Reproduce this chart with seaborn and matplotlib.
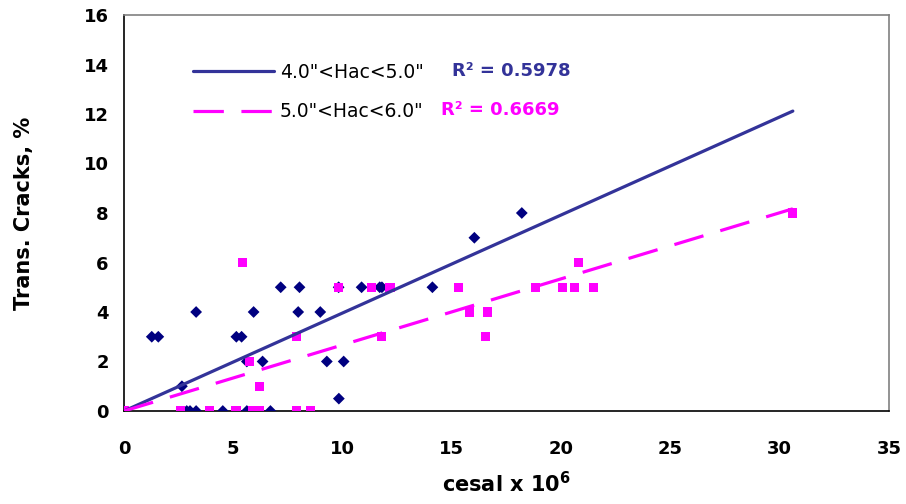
import matplotlib
matplotlib.use("Agg")
import matplotlib.pyplot as plt
import seaborn as sns
import numpy as np

# ---- data ----
series_labels = ['4.0"<Hac<5.0"', '5.0"<Hac<6.0"']
r2_labels = ["R² = 0.5978", "R² = 0.6669"]

x_45 = [0, 1.27, 1.57, 2.65, 2.87, 3.02, 3.3, 3.3, 4.52, 5.14, 5.38, 5.62, 5.62,
        5.93, 6.34, 6.7, 7.17, 7.97, 8.03, 8.98, 9.28, 9.82, 9.83, 10.05, 10.87,
        11.7, 11.8, 14.11, 16.03, 18.2]
y_45 = [0, 3, 3, 1, 0, 0, 0, 4, 0, 3, 3, 2, 0,
        4, 2, 0, 5, 4, 5, 4, 2, 5, 0.5, 2, 5,
        5, 5, 5, 7, 8]

x_56 = [0, 2.57, 3.91, 5.12, 5.43, 5.73, 5.88, 6.19, 6.19, 7.88, 7.9, 8.55, 9.82,
        11.31, 11.77, 12.17, 15.3, 15.8, 16.53, 16.63, 18.83, 20.05, 20.61, 20.78,
        21.48, 30.6]
y_56 = [0, 0, 0, 0, 6, 2, 0, 0, 1, 0, 3, 0, 5,
        5, 3, 5, 5, 4, 3, 4, 5, 5, 5, 6,
        5, 8]

trend_slopes = [0.396, 0.267]   # linear trendlines through the origin

x_ticks = [0, 5, 10, 15, 20, 25, 30, 35]
y_ticks = [0, 2, 4, 6, 8, 10, 12, 14, 16]

# ---- style ----
sns.set_theme(style="white")
plt.rcParams["font.family"] = ["DejaVu Sans"]
plt.rcParams["mathtext.fontset"] = "dejavusans"
for key in ["text.color", "axes.labelcolor", "xtick.color", "ytick.color"]:
    plt.rcParams[key] = "black"

W, H = 906, 504
fig = plt.figure(figsize=(W / 100, H / 100), dpi=100)
L, R, T, B = 124, 889, 15, 411
ax = fig.add_axes([L / W, 1 - B / H, (R - L) / W, (B - T) / H])

navy = "#000080"
magenta = "#FF00FF"
trend_blue = "#333399"

sns.scatterplot(x=x_45, y=y_45, marker="D", s=36, color=navy, edgecolor="none",
                linewidth=0, ax=ax, zorder=3)
sns.scatterplot(x=x_56, y=y_56, marker="s", s=44, color=magenta, edgecolor="none",
                linewidth=0, ax=ax, zorder=3)

xmax = max(max(x_45), max(x_56))
xs = np.array([0, xmax])
l1, = ax.plot(xs, trend_slopes[0] * xs, color=trend_blue, lw=2.3, zorder=4,
              solid_capstyle="round")
l2, = ax.plot(xs, trend_slopes[1] * xs, color=magenta, lw=2.3, zorder=4,
              dashes=(9.5, 5.5))

ax.set_xlim(0, 35)
ax.set_ylim(0, 16)
ax.set_xticks(x_ticks)
ax.set_yticks(y_ticks)
ax.set_xticklabels([str(v) for v in x_ticks], fontweight="bold", fontsize=13,
                   color="black")
ax.set_yticklabels([str(v) for v in y_ticks], fontweight="bold", fontsize=13,
                   color="black")
ax.tick_params(axis="both", direction="in", length=4, width=1, color="black")
ax.tick_params(axis="x", pad=21)
ax.tick_params(axis="y", pad=11)

for side in ["left", "bottom"]:
    ax.spines[side].set_color("black")
    ax.spines[side].set_linewidth(1.2)
for side in ["top", "right"]:
    ax.spines[side].set_color("#808080")
    ax.spines[side].set_linewidth(1.2)
ax.grid(False)

ax.set_xlabel(r"cesal x 10$^{\mathbf{6}}$", fontweight="bold", fontsize=15,
              color="black")
ax.set_ylabel("Trans. Cracks, %", fontweight="bold", fontsize=15, color="black")
ax.xaxis.set_label_coords(0.5, -0.152)
ax.yaxis.set_label_coords(-0.117, 0.5)

leg = ax.legend([l1, l2], series_labels, loc="center left",
                bbox_to_anchor=(0.081, 0.806), borderaxespad=0, frameon=False,
                fontsize=13.5, handlelength=4.3, handletextpad=0.3, labelspacing=1.1)
for t in leg.get_texts():
    t.set_color("black")

ax.text(0.429, 0.859, r2_labels[0], transform=ax.transAxes, color=trend_blue,
        fontsize=13, fontweight="bold", va="center", ha="left")
ax.text(0.414, 0.760, r2_labels[1], transform=ax.transAxes, color=magenta,
        fontsize=13, fontweight="bold", va="center", ha="left")

fig.savefig("out.png", dpi=100)
